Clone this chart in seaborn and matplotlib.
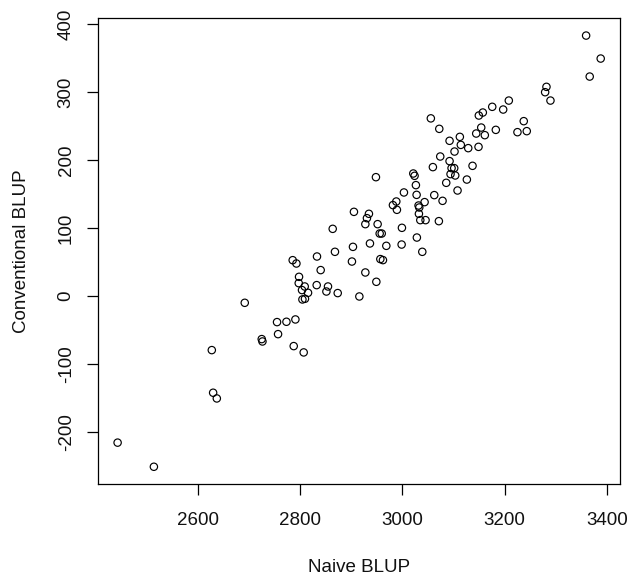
import matplotlib
matplotlib.use("Agg")
import matplotlib.pyplot as plt
import seaborn as sns
import numpy as np
import pandas as pd

naive_blup = [
    2443.8, 2514.7, 2627.9, 2630.5, 2637.7, 2725.5, 2726.9, 2757.4, 2788.0, 2807.5,
    2755.4, 2773.8, 2791.3, 2692.3, 2786.0, 2793.3, 2798.4, 2797.8, 2809.5, 2804.2,
    2816.0, 2805.0, 2810.0, 2833.5, 2840.7, 2832.9, 2855.0, 2851.9, 2874.0, 2916.3,
    2868.6, 2903.8, 2901.8, 2928.0, 2949.5, 2937.0, 2969.0, 2957.3, 2962.4, 2956.0,
    2960.0, 2948.7, 2905.7, 2935.0, 2931.1, 2928.0, 2864.2, 2952.0, 2999.5, 2998.9,
    3028.7, 3039.3, 3003.4, 2981.9, 2988.5, 2989.7, 3021.7, 3024.2, 3026.8, 3028.2,
    3043.8, 3032.0, 3033.4, 3032.7, 3035.4, 3045.7, 3071.7, 3062.7, 3078.9, 3060.0,
    3074.4, 3086.1, 3108.2, 3126.4, 3137.5, 3092.6, 3096.5, 3101.7, 3094.5, 3103.7,
    3102.3, 3092.6, 3112.7, 3114.6, 3129.1, 3149.2, 3359.5, 3388.0, 3366.5, 3282.0,
    3279.4, 3289.8, 3208.4, 3197.4, 3176.0, 3157.6, 3149.8, 3056.0, 3072.5, 3154.5,
    3144.7, 3161.5, 3183.0, 3237.6, 3225.3, 3243.5,
]
conventional_blup = [
    -216.0, -251.5, -79.9, -142.6, -151.0, -63.7, -67.2, -56.4, -74.0, -83.3,
    -38.7, -38.2, -34.8, -10.3, 52.4, 47.5, 27.9, 18.6, 13.7, 8.4,
    4.4, -5.4, -4.4, 57.8, 37.8, 15.7, 13.7, 6.3, 4.0, -1.0,
    64.7, 72.0, 50.4, 34.3, 20.6, 77.0, 73.5, 54.0, 52.5, 91.6,
    91.6, 174.5, 123.5, 120.6, 114.2, 105.4, 98.5, 105.4, 100.0, 75.4,
    85.7, 64.7, 152.0, 133.4, 138.7, 126.5, 179.9, 176.5, 162.8, 148.5,
    137.8, 132.8, 129.9, 120.6, 111.3, 111.3, 109.8, 148.1, 139.7, 189.3,
    204.9, 166.2, 154.9, 171.0, 191.2, 198.1, 187.8, 187.8, 179.0, 177.0,
    212.2, 228.0, 233.8, 222.0, 217.2, 219.1, 382.8, 349.0, 322.5, 307.4,
    299.5, 287.2, 287.2, 274.0, 278.0, 269.6, 265.2, 261.0, 245.6, 247.5,
    238.7, 236.3, 244.1, 256.9, 240.7, 242.2,
]
x_ticks = [2600, 2800, 3000, 3200, 3400]
y_ticks = [-200, -100, 0, 100, 200, 300, 400]
x_label = "Naive BLUP"
y_label = "Conventional BLUP"

df = pd.DataFrame({"naive": naive_blup, "conv": conventional_blup})

sns.set_style("white")
plt.rcParams["font.family"] = ["Liberation Sans", "DejaVu Sans"]

fig = plt.figure(figsize=(6.28, 5.80), dpi=100)
ax = fig.add_axes([0.1565, 0.1655, 0.9873 - 0.1565, 0.9684 - 0.1655])

sns.scatterplot(data=df, x="naive", y="conv", marker="o", s=28,
                facecolors="none", edgecolor="black", linewidth=0.85, ax=ax)

def padded(vals):
    lo, hi = min(vals), max(vals)
    r = hi - lo
    return lo - 0.04 * r, hi + 0.04 * r

ax.set_xlim(*padded(naive_blup))
ax.set_ylim(*padded(conventional_blup))
ax.set_xticks(x_ticks)
ax.set_yticks(y_ticks)
ax.set_xticklabels([str(v) for v in x_ticks])
ax.set_yticklabels([str(v) for v in y_ticks], rotation=90, va="center")

for sp in ax.spines.values():
    sp.set_visible(True)
    sp.set_color("black")
    sp.set_linewidth(0.9)

ax.tick_params(axis="both", which="major", direction="out", length=8, width=0.9,
               color="black", labelsize=13.5, labelcolor="#111111",
               bottom=True, left=True, top=False, right=False)
ax.tick_params(axis="x", pad=12)
ax.tick_params(axis="y", pad=9)

ax.set_xlabel(x_label, fontsize=13.5, color="#111111", labelpad=22)
ax.set_ylabel(y_label, fontsize=13.5, color="#111111", labelpad=20)

fig.savefig("out.png", dpi=100, facecolor="white")
